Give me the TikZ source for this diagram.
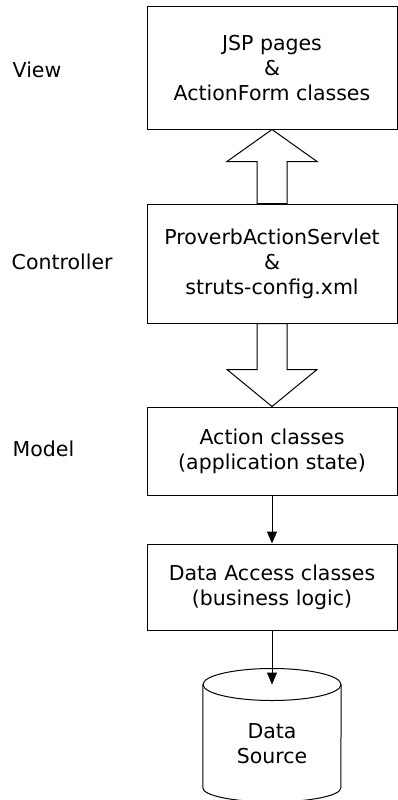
\documentclass[tikz,border=0pt]{standalone}
\usepackage{fontspec}
\setmainfont{DejaVu Sans}
\usetikzlibrary{positioning, arrows.meta, calc}
\tikzstyle{layerbox} = [rectangle, minimum width=250pt, align=center, draw=black, line width=1pt, fill=white, font=\fontsize{20.5}{25}\selectfont]
\tikzstyle{layer} = [anchor=west, inner sep=0pt, font=\fontsize{20.5}{25}\selectfont]
\tikzstyle{arrow} = [line width=1pt, -{Triangle[width=10pt,length=12pt]}]
\tikzstyle{blockarrow} = [line width=1pt, draw=black, fill=white]

\begin{document}
\begin{tikzpicture}[x=1pt, y=-1pt]
    \useasboundingbox (0,0) rectangle (398,800);
    % Nodes
    \node (view) [layerbox, minimum height=122pt] at (272,68) {JSP pages\\\&\\ActionForm classes};
    \node (ctrl) [layerbox, minimum height=119pt, below=74pt of view] {ProverbActionServlet\\\&\\struts-config.xml};
    \node (action) [layerbox, minimum height=88pt, below=83pt of ctrl] {Action classes\\(application state)};
    \node (dao) [layerbox, minimum height=86pt, below=48pt of action] {Data Access classes\\(business logic)};
    \node (source) [minimum width=138pt, minimum height=117pt, below=54pt of dao, align=center, font=\fontsize{20.5}{25}\selectfont] {Data\\Source};

    % Layer names
    \node (viewlbl) [layer] at ([xshift=-134pt, yshift=-2pt]view.west) {View};
    \node (ctrllbl) [layer] at ([xshift=-135pt, yshift=2pt]ctrl.west) {Controller};
    \node (modellbl) [layer] at ([xshift=-134pt, yshift=2pt]action.west) {Model};

    % Data source drum
    \draw [line width=1pt] (source.north west) -- ([yshift=14pt]source.south west)
        arc [start angle=180, end angle=360, x radius=69pt, y radius=14pt] -- (source.north east);
    \draw [line width=1pt] (source.north) ellipse [x radius=69pt, y radius=16pt];

    % Arrows
    \draw [blockarrow] (view.south) -- ++(45,32) -- ++(-30,0) -- ($(ctrl.north)+(15,0)$)
        -- ($(ctrl.north)+(-15,0)$) -- ($(view.south)+(-15,32)$) -- ++(-30,0) -- cycle;
    \draw [blockarrow] (action.north) -- ++(45,-37) -- ++(-30,0) -- ($(ctrl.south)+(15,0)$)
        -- ($(ctrl.south)+(-15,0)$) -- ($(action.north)+(-15,-37)$) -- ++(-30,0) -- cycle;
    \draw [arrow] (action) -- (dao);
    \draw [arrow] (dao) -- (source.north);
\end{tikzpicture}
\end{document}
